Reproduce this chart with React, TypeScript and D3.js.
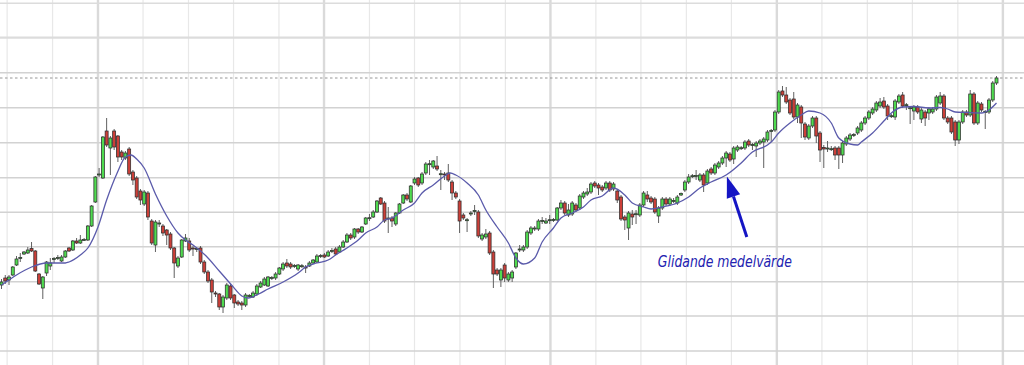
import React from 'react';
import * as d3 from 'd3';

// Candle values (price units), one entry per trading period
const opens = [
  75,82,80,85,95,102,106,107,111.5,109,
  86,72,87,94,101,102,99,103,112,110,
  119,117,120,120,134,158,185,182,229,212,
  229,224,208,202,211,188,182,169,156,167,
  139,115,136.5,134,130,126,112,94,103,119,
  119,112,111,112,98,88,80,67,66,53,
  62,74,65,58,57,55,64,63,66,73,
  75,74,82,82,86,91,97,96,94,91,
  94,93,94,97,98,104,105,104,109,111,
  108,113,118,125,123,131,128,136,142,143,
  148,162,157,141.5,142,136,147,157,165,158,
  177,182,177,187,196,193,194,186,186,187,
  178,167,159,145,140,146.5,149,148,121,123,
  127,108,90,80,95,80,82,93,110.5,110,
  113,127,131.5,131,139,137,140,140,140,152,
  157,145,146,155,152,163,166,168,177,175,
  173,172,177,171,169,163,143,132,146,146,
  145,155,165,162,161,144,152,161,156,159,
  157,165,170,178,184,184,180,185,177,191,
  187,193,197,202,206,201,210,212,212,219,
  215,214,217,218,220,229,230,248,269,265,
  260,261,243,253,236,222,234,242,227,212.5,
  211.5,211,212,212,205,216,221,225,227,230,
  237,242,247,250,254,259,254,244,243,258,
  265,255,252,249,253,241,248,247,248,251,
  257,264,242,242,238,220,238,248,245,266,
  237,256,248,248,260,277,
];
const highs = [
  81,85,85,94,104,107,109,113,118,110,
  87,84,99,102,103,105,105,110,113,120,
  122,125,122,135,155,184,192,224,242,224,
  231,225,210,209,213,190,184,171,170,169,
  141,140,140,136,131,128,113,104,121,126,
  122,114,113,114,100,90,82,69,67,65,
  77,76,66,60,59,67,66,69,76,79,
  83,84,84,88,93,98,101,98,96,96,
  96,95,99,101,106,106,107,110,112,113,
  115,120,127,127,132,132,134,143,146,150,
  160,163,159,153,144,148,157,166,167,175,
  183,183,188,198,200,200,204,190,188,196,
  180,169,161,147,142,149,155,150,127,131,
  129,110,92,92,97,88,90,108,115,115,
  130,134,134,141,143,142,145,142,153,160,
  159,156,159,157,166,169,172,178,179,177,
  175,179,179,178,171,165,145,149,150,150,
  157,169,169,164,163,154,163,163,163,162,
  165,167.5,180,186,186,190,187,187,191,193,
  197,199,204,209,208,214,215,214,220,221,
  217,219,221,223,230,231,250,270,274,273,
  262,268,257,255,238,236,244,244,229,215,
  219,214,214,214,219,224,227,227,234,239,
  244,250,253,259,262,263,256,246,261,266,
  268,257,254,255,255,252,250,253,253,265,
  268,266,244,244,240,240,250,250,270,268,
  259,258,250,262,279,284,
];
const lows = [
  71,76,75,84,94,98,105,106,108,88,
  75,61,84,90,97,100,98,102,108,109,
  116,116,119,119,133,157,183,181,213,185,
  210,198,200,200,184,175,161,155,154,140,
  115,108,133,124,115,110,82,92,102,118,
  108,104,108,96,86,77,57,63,50,47,
  60,60,52,54,50,53,62,62,64,72,
  74,73,80,80,85,89,92,91,92,89,
  92,87,93,96,97,102,102,103,107,105,
  107,112,117,120,121,126,127,135,139,142,
  147,155,137,127,133,134,146,156,159,157,
  175,173,175,185,185,191,189,170,180,178,
  160,161,127,140,128,144,145,122,119,121,
  105,72,84,73,78,78,78,91,108,108,
  111,125,129,129,136,136,136,138,139,150,
  145,143,144,148,150,161,164,166,172,165,
  168,170,168,169,157,139,130,120,135,136,
  143,153,158,156,146,137,150,154,154,157,
  155,164,168,176,182,180,178,168,175,185,
  185,191,195,193,198,196,208,210,210,213,
  210,203,215,192,218,218,228,246,263,256,
  245,241,237,222,220,220,232,217,198,192,
  208,209,200,191,197,214,219,223,225,228,
  235,240,245,248,252,251,240,242,240,256,
  252,250,236,240,246,237,234,240,246,249,
  255,240,236,226,214,216,236,243,243,235,
  235,248,231,246,258,275,
];
const closes = [
  78,79,83,93,101,102.5,108,110,109,89,
  76,83,98,97,101.5,102.5,103,109,109,119,
  117,120,120.5,134,154,183,186,223,215,222,
  213,203,203,207,186,180,163,160,168,143,
  117,138,137,127,125,112,97,102,120,122,
  110,111.5,111.5,98,88,79,68,66.5,53,63,
  75,62,57,56,55,65,64.5,67,74,77,
  81,83,82.5,86,92,96,94,93,94.5,95,
  94.3,92.5,97,100,104,104.5,103,108,109.5,106,
  113,118,125,122,131,128,133,142,142.3,148,
  159,156,139,142,139,147,156,165,161,174,
  181,175,186,196,196.3,199,191,186.3,185.5,180,
  167,163,139,142,140.3,147,149.5,124,125,126,
  107,86,86,90,82,86,88,107,111,113,
  128,132,132,139,139.5,139,140.3,140.5,152,157,
  147,150,157,150,164,167,168,176,174,172,
  170,177,170,176,160,141,140,147,143,146.3,
  155,167,161,158,148,152,161,156,161,159.5,
  163,166.5,178,183,184.3,184.5,185,175,189,187,
  195,197,202,207,200,212,213,212.3,218,215,
  215.5,217,219,221,228,229.5,248,268,265,258,
  247,243,255,237,223,234,242,224,210,211,
  212,211.3,205,205,217,222,225,225.5,232,237,
  242,248,251,257,258,253,244,244.3,259,264,
  254,255.3,252.3,253,248,250,242,251,251,263,
  264,242,238,228,220,238,248,245,266,237,
  257,250,248.5,260,277,282,
];

// Moving average ("Glidande medelvärde"): candle index / value
const maIndex = [0,2,4,8,12,17,18,21,23,25.7,28,30.8,33,34.5,36,38,41,44,47,49,51,54.5,58,61.5,64,65.7,68.5,71,75,79,81,84,87,89,92,95,97,100,102,104,107,110,112,115,118,119.5,121,124,127,129,132,135,137,139,142,144,147,149,152,155,157,160,163,166,168,171,173,176,180,183,186,189,193,197,200,204,205,207,210,213,215,218,221,223,226,228,229,232,235,237,240,243,247,250,252,254,257,261,263,265];
const maValue = [75,80,85,93,97,97,98,105,112,133,160,187,203,205,201,192,166,144,127,120,115,104,89,74,64,62,66,71,78,87,93,97,100,105,112,120,127,133,140,142,150,157,167,175,184,187,185,177,165,150,133,117,102,96,102,118,132,142,147,153,160,164,172,165,157,153,151,153,157,163,172,178,185,197,208,215,218,227,237,245,249,247,237,222,216,215,218,227,239,247,253,253.5,252,252.5,251,248,247.5,247,250,257];

// Grid
const hGrid = [9, 44, 78.3, 113.3, 147.7, 182.3, 217.3, 252.3, 287.3, 322.3, 356.7];
const vGrid = [1.5,13.6,25.7,37.7,49.8,61.8,73.9,85.9,98.0,110.0,122.1,134.2,146.2,158.3,170.3,182.4,194.4,206.5,218.5,230.6,242.6,254.7,266.7];
const vMajor = [false,false,true,false,false,false,false,true,false,false,false,false,true,false,false,false,false,true,false,false,false,false,true];

// Annotation (in data space: candle index, price)
const labelText = 'Glidande medelvärde';
const labelPos = [174.8, 93];
const arrowTail = [198.5, 123];
const arrowTip = [193.2, 183.5];

export default function App() {
  const W = 1024;
  const H = 365;
  const n = closes.length;
  const x = d3.scaleLinear().domain([0, n - 1]).range([1.5, 996.5]);
  const y = d3.scaleLinear().domain([0, 360]).range([360, 0]);

  const maPts: [number, number][] = maIndex.map((v, i) => [x(v), y(maValue[i])]);
  const maPath = d3.line().curve(d3.curveMonotoneX)(maPts) || '';

  const tx = x(arrowTail[0]), ty = y(arrowTail[1]);
  const hx = x(arrowTip[0]), hy = y(arrowTip[1]);
  const dx = hx - tx, dy = hy - ty;
  const len = Math.sqrt(dx * dx + dy * dy);
  const ux = dx / len, uy = dy / len;
  const headLen = 21, headHalf = 7;
  const bx = hx - ux * headLen, by = hy - uy * headLen;
  const px = -uy * headHalf, py = ux * headHalf;

  const bodyW = 3;
  const lastY = y(closes[n - 1]);

  return (
    <svg width={W} height={H} style={{ position: 'absolute', left: 0, top: 0, background: '#fff' }}>
      <rect x={0} y={0} width={W} height={H} fill="#ffffff" />
      {vGrid.map((g, i) => (
        <line key={'v' + i} x1={x(g)} x2={x(g)} y1={0} y2={H}
          stroke={vMajor[i] ? '#dadada' : '#e8e8e8'} strokeWidth={vMajor[i] ? 2.4 : 1.2} />
      ))}
      {hGrid.map((g, i) => (
        <line key={'h' + i} x1={0} x2={W} y1={y(g)} y2={y(g)}
          stroke={i === 9 || i === 10 ? '#dcdcdc' : '#d2d2d2'} strokeWidth={i === 9 ? 2.2 : 1.5} />
      ))}
      <line x1={0} x2={W} y1={lastY} y2={lastY} stroke="#8a8a8a" strokeWidth={0.9} strokeDasharray="2.5,2.5" />
      <g>
        {closes.map((c, i) => {
          const o = opens[i];
          const up = c >= o;
          const cx = x(i);
          const top = y(Math.max(o, c));
          const bot = y(Math.min(o, c));
          const hgt = Math.max(1, bot - top);
          return (
            <g key={i}>
              <line x1={cx} x2={cx} y1={y(highs[i])} y2={y(lows[i])} stroke="#606060" strokeWidth={1} />
              <rect x={cx - bodyW / 2} y={top} width={bodyW} height={hgt}
                fill={up ? '#4fdb4f' : '#cc3f38'} stroke="#2e2e2e" strokeWidth={0.75} />
            </g>
          );
        })}
      </g>
      <path d={maPath} fill="none" stroke="#5b5bab" strokeWidth={1.3} />
      <line x1={tx} y1={ty} x2={bx} y2={by} stroke="#1515c4" strokeWidth={3} />
      <polygon points={`${hx},${hy} ${bx + px},${by + py} ${bx - px},${by - py}`} fill="#1515c4" />
      <text x={x(labelPos[0])} y={y(labelPos[1])} fontFamily="DejaVu Sans" fontStyle="italic"
        fontSize={15} fill="#2222b0" textLength={134} lengthAdjust="spacingAndGlyphs">{labelText}</text>
    </svg>
  );
}
